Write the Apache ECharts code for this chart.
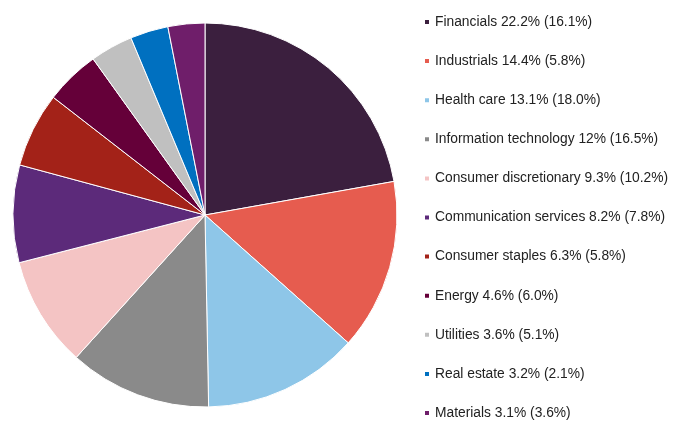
<!DOCTYPE html>
<html><head><meta charset="utf-8">
<script src="https://cdn.jsdelivr.net/npm/echarts@6/dist/echarts.min.js"></script>
<style>html,body{margin:0;padding:0;background:#fff}#c{width:680px;height:429px}</style>
</head><body><div id="c"></div>
<script>
const sectors = ["Financials","Industrials","Health care","Information technology","Consumer discretionary","Communication services","Consumer staples","Energy","Utilities","Real estate","Materials"];
const fundWeights = [22.2,14.4,13.1,12,9.3,8.2,6.3,4.6,3.6,3.2,3.1];
const benchmarkWeights = ["16.1","5.8","18.0","16.5","10.2","7.8","5.8","6.0","5.1","2.1","3.6"];
const colors = ["#3b1f3e","#e65c4f","#8ec6e8","#8a8a8a","#f4c4c4","#5c2a7a","#a32218","#650039","#c0c0c0","#0070c0","#6f1e6a"];

const chart = echarts.init(document.getElementById('c'));
chart.setOption({
  animation:false,
  color: colors,
  legend:{
    orient:'vertical', left:418, top:15, bottom:0, padding:[0,5],
    icon:'rect', itemWidth:6, itemHeight:6, itemGap:25.1,
    selectedMode:false,
    textStyle:{fontFamily:'Liberation Sans, Arial, sans-serif', fontSize:13.8, color:'#222', lineHeight:14},
    formatter: n => { const i = sectors.indexOf(n); return n + ' ' + fundWeights[i] + '% (' + benchmarkWeights[i] + '%)'; },
    data: sectors
  },
  series:[{
    type:'pie', center:[205,215], radius:[0,192], startAngle:90, clockwise:true,
    label:{show:false}, labelLine:{show:false},
    itemStyle:{borderColor:'#fff', borderWidth:1},
    data: sectors.map((s,i)=>({name:s, value:fundWeights[i]}))
  }]
});
</script></body></html>
